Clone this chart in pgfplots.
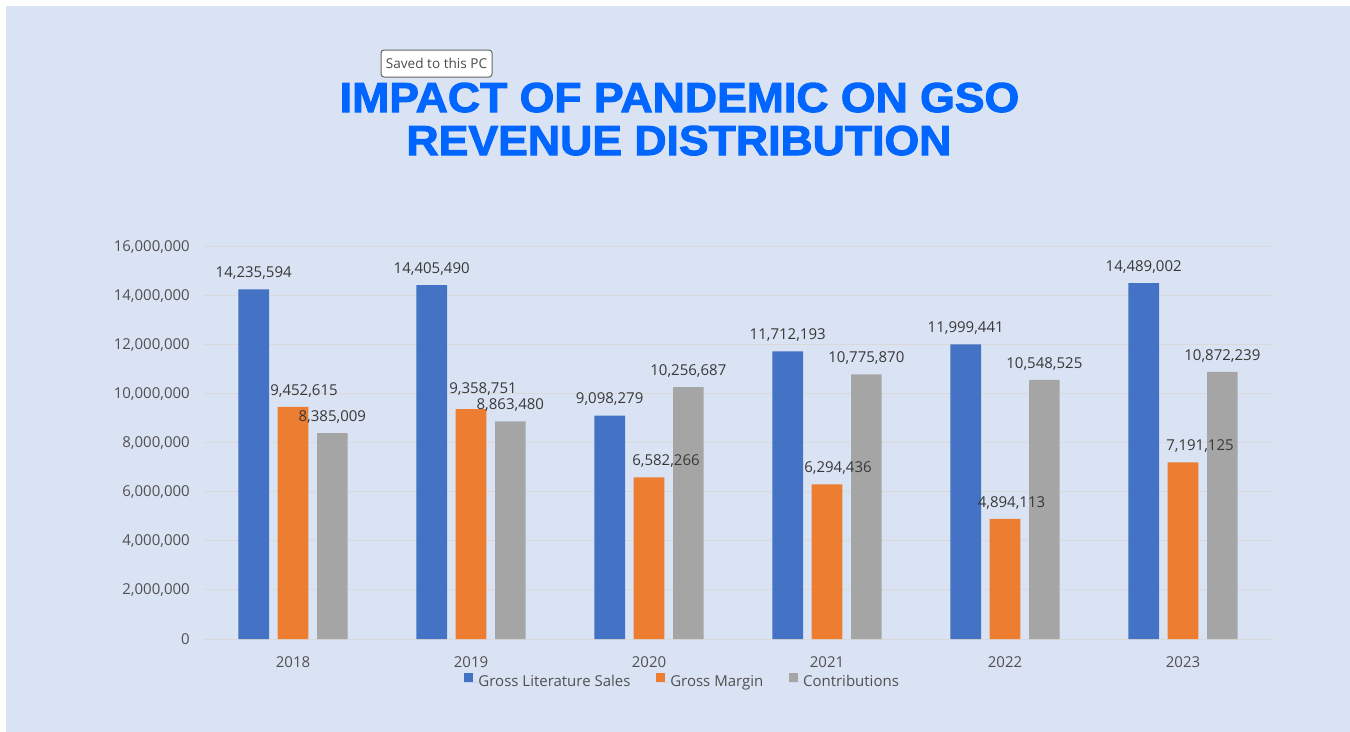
\documentclass[border=0pt]{standalone}
\usepackage{pgfplots}
\pgfplotsset{compat=1.18}
\usepackage{pgfplotstable}
\usepackage{fontspec}
\setmainfont{Open Sans}
\newfontfamily\titlefont{Liberation Sans}[FakeStretch=1.065, BoldFeatures={FakeBold=2.4}]

\definecolor{bg}{HTML}{DAE3F3}
\definecolor{cBlue}{HTML}{4472C4}
\definecolor{cOrange}{HTML}{ED7D31}
\definecolor{cGray}{HTML}{A5A5A5}
\definecolor{gridc}{HTML}{D9D9D9}
\definecolor{tickc}{HTML}{505050}
\definecolor{lblc}{HTML}{383838}
\definecolor{titleblue}{HTML}{0066FF}

\pgfplotstableread{
x y
0 14235594
1 14405490
2 9098279
3 11712193
4 11999441
5 14489002
}\tblue
\pgfplotstableread{
x y dx dy
0 9452615 11 0
1 9358751 12 -4
2 6582266 17 0
3 6294436 11 0
4 4894113 6.5 0
5 7191125 17 0
}\torange
\pgfplotstableread{
x y
0 8385009
1 8863480
2 10256687
3 10775870
4 10548525
5 10872239
}\tgray

\begin{document}
\begin{tikzpicture}
\begin{scope}[x=0.75pt,y=-0.75pt]
\fill[white] (0,0) rectangle (1350,732);
\fill[bg] (6,6) rectangle (1350,732);
\draw[rounded corners=2.25pt, fill=white, draw=black!60, line width=0.75pt] (381,50) rectangle (492,77);
\node[font=\fontsize{10.2}{12}\selectfont, text=black!70, inner sep=0pt] at (436.5,63.5) {Saved to this PC};
\node[anchor=base, text=titleblue, inner sep=0pt, font=\titlefont\bfseries\fontsize{31.4}{36}\selectfont] at (679.5,112) {IMPACT OF PANDEMIC ON GSO};
\node[anchor=base, text=titleblue, inner sep=0pt, font=\titlefont\bfseries\fontsize{31.4}{36}\selectfont] at (679,155) {REVENUE DISTRIBUTION};
\end{scope}
\begin{axis}[
  at={(153pt,-479.25pt)}, anchor=south west,
  width=801pt, height=294.75pt, scale only axis,
  xmin=-0.5, xmax=5.5, ymin=0, ymax=16000000,
  ybar=6.5pt, bar width=23pt,
  xtick={0,1,2,3,4,5}, xticklabels={2018,2019,2020,2021,2022,2023},
  ytick={0,2000000,4000000,6000000,8000000,10000000,12000000,14000000,16000000},
  ymajorgrids, grid style={draw=gridc, line width=0.75pt},
  axis line style={draw=none}, major tick length=0pt, tick style={draw=none},
  scaled y ticks=false,
  /pgf/number format/fixed, /pgf/number format/1000 sep={,},
  /pgf/number format/assume math mode=true,
  ticklabel style={font=\fontsize{11.25}{13}\selectfont, text=tickc},
  yticklabel style={anchor=base east, inner sep=0pt, xshift=-10.5pt, yshift=-3.75pt},
  xticklabel style={anchor=base, inner sep=0pt, yshift=-21pt},
  nodes near coords,
  every node near coord/.append style={font=\fontsize{11.25}{13}\selectfont, text=lblc, anchor=base, inner sep=0pt, yshift=8.7pt},
  clip=false,
  legend style={at={(0.4473,-0.107)}, anchor=center, draw=none, fill=none,
    font=\fontsize{11.25}{13}\selectfont, text=tickc, inner sep=0pt,
    nodes={inner sep=0pt},
    /tikz/every even column/.append style={column sep=19.3pt}},
  legend columns=3,
]
\addplot[fill=cBlue, draw=none, legend image code/.code={\fill[cBlue] (0pt,0.2pt) rectangle (6.75pt,6.6pt); \path (0pt,0pt) -- (10.5pt,0pt);}] table[x=x,y=y] {\tblue};
\addplot[fill=cOrange, draw=none,
  visualization depends on={\thisrow{dx} \as \dx},
  visualization depends on={\thisrow{dy} \as \dy},
  every node near coord/.append style={xshift={\dx*0.75pt}, yshift={-\dy*0.75pt}},
  legend image code/.code={\fill[cOrange] (0pt,0.2pt) rectangle (6.75pt,6.6pt); \path (0pt,0pt) -- (10.5pt,0pt);}] table[x=x,y=y] {\torange};
\addplot[fill=cGray, draw=none, legend image code/.code={\fill[cGray] (0pt,0.2pt) rectangle (6.75pt,6.6pt); \path (0pt,0pt) -- (10.5pt,0pt);}] table[x=x,y=y] {\tgray};
\legend{Gross Literature Sales, Gross Margin, Contributions}
\end{axis}
\end{tikzpicture}
\end{document}
